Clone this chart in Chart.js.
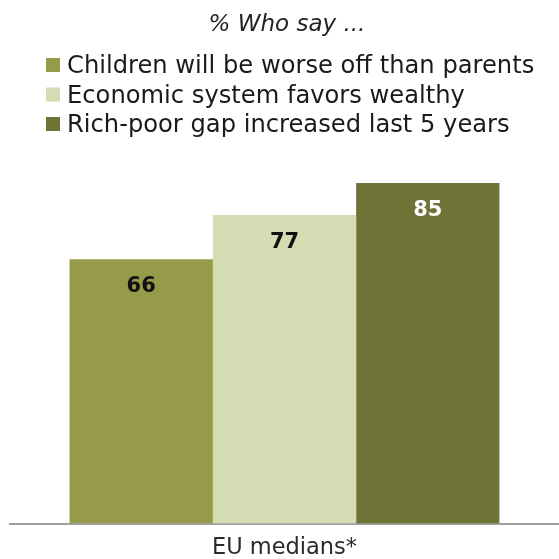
<!DOCTYPE html>
<html>
<head>
<meta charset="utf-8">
<script src="https://cdn.jsdelivr.net/npm/chart.js@4.4.1/dist/chart.umd.min.js"></script>
<style>
html,body{margin:0;padding:0;background:#fff}
#wrap{width:559px;height:559px;position:relative}
</style>
</head>
<body>
<div id="wrap"><canvas id="gapChart" width="559" height="559"></canvas></div>
<script>
// =============================
// DATA
// =============================
let categories = ["EU medians*"]
let seriesNames = [
"Children will be worse off than parents",
"Economic system favors wealthy",
"Rich-poor gap increased last 5 years"
]
let seriesValues = [66, 77, 85]
let seriesColors = ["#969b4a", "#d5dbb2", "#6f7436"]
let labelColors = ["#111111", "#111111", "#ffffff"]
let titleText = "% Who say ..."

const FONT = "'DejaVu Sans', Verdana, sans-serif"


// =============================
// Title + legend (drawn above the plot)
// =============================
const headerPlugin = {
id:"header",
afterDraw(chart){

let ctx = chart.ctx
ctx.save()

ctx.fillStyle = "#222"
ctx.font = "italic 23px " + FONT
ctx.textAlign = "center"
ctx.textBaseline = "alphabetic"
ctx.fillText(titleText, 287, 31)

ctx.font = "24.2px " + FONT
ctx.textAlign = "left"

chart.data.datasets.forEach((ds,i)=>{
let base = 73 + i*29.5
ctx.fillStyle = ds.backgroundColor
ctx.fillRect(46, base-15, 14, 14)
ctx.fillStyle = "#1a1a1a"
ctx.fillText(ds.label, 67, base)
})

ctx.restore()
}
}


// =============================
// Value labels inside the bars
// =============================
const valueLabels = {
id:"valueLabels",
afterDatasetsDraw(chart){

let ctx = chart.ctx
ctx.save()
ctx.font = "bold 21px " + FONT
ctx.textAlign = "center"
ctx.textBaseline = "middle"

chart.data.datasets.forEach((ds,i)=>{
let meta = chart.getDatasetMeta(i)
meta.data.forEach((bar,j)=>{
ctx.fillStyle = labelColors[i]
ctx.fillText(String(ds.data[j]), bar.x, bar.y + 27)
})
})

ctx.restore()
}
}


// =============================
// Chart
// =============================
let datasets = seriesNames.map((name,i)=>({
label:name,
data:[seriesValues[i]],
backgroundColor:seriesColors[i],
borderWidth:0,
barPercentage:1,
categoryPercentage:0.783
}))

const ctx = document.getElementById("gapChart").getContext("2d")

new Chart(ctx,{

type:"bar",

data:{
labels:categories,
datasets:datasets
},

options:{

responsive:false,
animation:false,

// the axis label sits close to the bottom edge
layout:{
padding:{top:123, left:10, right:0, bottom:-13}
},

plugins:{
legend:{display:false},
tooltip:{enabled:false}
},

scales:{
x:{
grid:{display:false, drawTicks:false},
border:{display:true, color:"#a0a0a0", width:2},
ticks:{
color:"#2a2a2a",
padding:13,
font:{family:FONT, size:22.5, lineHeight:1}
}
},

y:{
display:false,
min:0,
max:100
}
}

},

plugins:[headerPlugin, valueLabels]

})
</script>
</body>
</html>
